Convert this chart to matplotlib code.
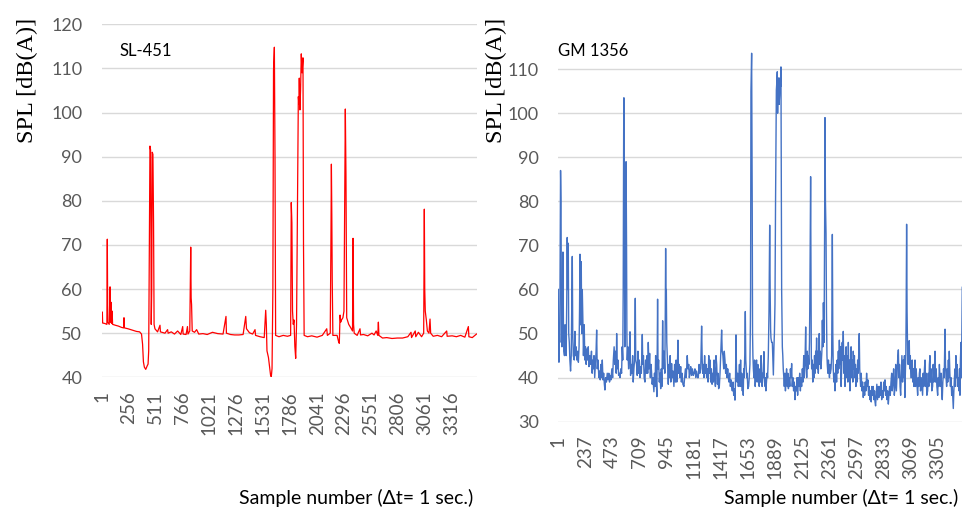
import matplotlib
matplotlib.use("Agg")
import matplotlib.pyplot as plt

# ---- data (sample index, SPL in dB(A)) ----
red_label = "SL-451"
red_n = 3552
red_sample = [
    1, 7, 10, 30, 50, 54, 58, 72, 80, 84, 90, 94, 100, 104, 130, 160, 190, 208, 212, 216,
    250, 290, 330, 360, 378, 388, 396, 405, 418, 430, 440, 446, 452, 458, 464, 468, 470, 475, 480, 486,
    492, 497, 505, 530, 553, 557, 600, 625, 630, 660, 690, 720, 750, 768, 772, 800, 813, 818, 835, 844,
    848, 852, 858, 880, 900, 920, 960, 1000, 1050, 1100, 1150, 1178, 1182, 1220, 1260, 1300, 1340, 1365, 1372, 1400,
    1430, 1453, 1458, 1500, 1540, 1554, 1560, 1566, 1580, 1590, 1600, 1607, 1614, 1622, 1628, 1636, 1642, 1648, 1680, 1720,
    1760, 1790, 1796, 1802, 1808, 1815, 1822, 1830, 1838, 1846, 1857, 1863, 1868, 1872, 1878, 1884, 1891, 1898, 1907, 1912,
    1918, 1950, 1990, 2040, 2090, 2132, 2138, 2165, 2172, 2176, 2180, 2184, 2190, 2230, 2245, 2251, 2258, 2264, 2272, 2285,
    2295, 2302, 2308, 2314, 2321, 2340, 2360, 2376, 2381, 2386, 2392, 2420, 2447, 2452, 2480, 2520, 2560, 2580, 2600, 2615,
    2621, 2626, 2660, 2700, 2750, 2800, 2850, 2900, 2930, 2935, 2970, 2975, 3000, 3030, 3050, 3056, 3060, 3065, 3075, 3085,
    3100, 3110, 3116, 3140, 3180, 3220, 3268, 3272, 3320, 3360, 3400, 3440, 3473, 3478, 3510, 3550,
]
red_spl = [
    52.5, 54.8, 52.3, 52.2, 52.0, 71.3, 52.5, 52.0, 60.5, 52.5, 57.0, 52.2, 55.0, 52.0, 51.8, 51.6, 51.3, 51.2, 53.5, 51.2,
    51.0, 50.7, 50.4, 50.3, 49.8, 47.5, 43.5, 42.3, 41.8, 42.5, 43.0, 46.0, 70.0, 92.4, 91.5, 70.0, 52.0, 60.0, 91.0, 90.5,
    75.0, 52.0, 51.0, 50.3, 51.8, 50.3, 50.0, 50.8, 50.0, 50.3, 49.8, 50.5, 49.7, 51.5, 49.8, 49.7, 51.5, 49.8, 50.5, 69.5,
    58.0, 56.5, 50.5, 50.2, 50.8, 49.8, 49.9, 49.7, 50.2, 49.9, 49.8, 53.8, 50.0, 49.7, 49.6, 49.6, 49.7, 53.8, 51.0, 50.1,
    49.8, 50.8, 49.5, 49.2, 49.0, 55.2, 52.0, 46.0, 44.5, 42.5, 40.5, 40.1, 42.0, 60.0, 109.6, 114.8, 90.0, 49.5, 49.2, 49.5,
    49.3, 49.5, 79.6, 75.0, 55.0, 52.0, 53.0, 47.0, 44.3, 52.0, 86.0, 103.6, 102.0, 107.8, 100.6, 105.0, 113.3, 109.0, 112.4, 70.0,
    49.5, 49.2, 49.4, 49.1, 49.5, 51.0, 49.5, 50.0, 72.0, 88.3, 76.8, 62.0, 49.5, 49.5, 48.0, 47.7, 54.1, 52.5, 53.0, 53.5,
    55.0, 80.0, 100.8, 86.0, 53.5, 52.0, 51.2, 50.5, 71.5, 52.0, 50.0, 49.5, 51.0, 49.6, 49.7, 49.4, 50.0, 49.6, 50.5, 49.5,
    52.5, 49.5, 48.9, 49.0, 48.8, 48.9, 48.9, 49.2, 50.2, 49.0, 50.5, 49.2, 50.2, 49.2, 50.0, 78.1, 60.0, 55.0, 53.0, 50.5,
    50.0, 53.2, 50.0, 49.3, 49.5, 49.2, 50.5, 49.3, 49.4, 49.2, 49.5, 49.1, 51.5, 49.2, 49.0, 49.8,
]

blue_label = "GM 1356"
blue_n = 3515
blue_sample = [
    1, 4, 7, 10, 14, 18, 21, 25, 29, 33, 38, 42, 46, 50, 55, 60, 65, 70, 75, 79,
    83, 88, 92, 97, 102, 108, 114, 118, 123, 127, 132, 140, 146, 150, 156, 162, 170, 176, 182, 186,
    190, 195, 201, 205, 210, 216, 220, 227, 232, 238, 244, 250, 256, 262, 268, 275, 282, 290, 296, 302,
    306, 312, 318, 324, 330, 335, 340, 347, 354, 360, 366, 372, 378, 384, 390, 396, 402, 407, 413, 420,
    427, 434, 441, 447, 453, 460, 467, 474, 480, 487, 494, 500, 505, 509, 514, 520, 526, 532, 538, 545,
    552, 557, 562, 566, 570, 572, 576, 580, 584, 588, 591, 595, 598, 601, 606, 613, 619, 625, 630, 636,
    642, 648, 653, 659, 665, 671, 675, 682, 688, 694, 700, 706, 712, 718, 724, 732, 736, 742, 748, 755,
    761, 767, 773, 779, 784, 790, 796, 802, 808, 813, 818, 824, 833, 838, 843, 848, 852, 859, 865, 869,
    874, 880, 886, 892, 897, 903, 909, 914, 920, 923, 928, 932, 935, 938, 941, 945, 949, 954, 958, 963,
    968, 974, 980, 987, 993, 999, 1007, 1013, 1020, 1026, 1032, 1037, 1042, 1047, 1053, 1060, 1066, 1072, 1078, 1085,
    1094, 1100, 1107, 1114, 1123, 1129, 1136, 1141, 1147, 1153, 1160, 1168, 1175, 1182, 1190, 1197, 1204, 1212, 1219, 1226,
    1233, 1240, 1248, 1253, 1257, 1262, 1268, 1274, 1280, 1286, 1292, 1298, 1304, 1310, 1316, 1321, 1327, 1333, 1339, 1345,
    1350, 1356, 1362, 1368, 1373, 1379, 1385, 1390, 1396, 1402, 1408, 1414, 1418, 1422, 1427, 1433, 1440, 1445, 1451, 1457,
    1463, 1469, 1475, 1480, 1486, 1492, 1498, 1504, 1509, 1515, 1521, 1527, 1532, 1538, 1543, 1547, 1551, 1557, 1562, 1567,
    1572, 1577, 1582, 1587, 1592, 1597, 1602, 1606, 1610, 1614, 1618, 1623, 1628, 1632, 1636, 1640, 1644, 1650, 1657, 1662,
    1668, 1672, 1674, 1677, 1683, 1688, 1691, 1694, 1698, 1703, 1709, 1714, 1720, 1726, 1731, 1737, 1743, 1749, 1755, 1760,
    1765, 1769, 1774, 1780, 1785, 1790, 1795, 1800, 1804, 1807, 1812, 1817, 1822, 1828, 1834, 1840, 1844, 1848, 1851, 1857,
    1863, 1868, 1872, 1877, 1881, 1886, 1891, 1898, 1902, 1906, 1909, 1913, 1918, 1922, 1926, 1930, 1934, 1938, 1941, 1944,
    1946, 1950, 1954, 1958, 1963, 1967, 1972, 1977, 1982, 1987, 1993, 1998, 2003, 2009, 2015, 2020, 2026, 2031, 2036, 2042,
    2048, 2054, 2060, 2066, 2072, 2078, 2083, 2089, 2095, 2101, 2107, 2112, 2118, 2124, 2130, 2136, 2141, 2147, 2153, 2157,
    2162, 2167, 2172, 2176, 2181, 2186, 2190, 2194, 2196, 2199, 2202, 2205, 2210, 2215, 2220, 2225, 2230, 2235, 2240, 2244,
    2248, 2253, 2258, 2263, 2267, 2271, 2275, 2280, 2285, 2290, 2294, 2298, 2303, 2307, 2313, 2318, 2321, 2325, 2330, 2334,
    2338, 2341, 2346, 2351, 2356, 2360, 2364, 2368, 2374, 2379, 2385, 2389, 2393, 2398, 2403, 2408, 2412, 2417, 2422, 2427,
    2432, 2437, 2441, 2446, 2451, 2456, 2461, 2466, 2471, 2476, 2480, 2485, 2490, 2495, 2500, 2505, 2510, 2515, 2520, 2524,
    2529, 2534, 2538, 2543, 2548, 2553, 2558, 2563, 2567, 2572, 2577, 2581, 2586, 2590, 2595, 2600, 2605, 2610, 2615, 2619,
    2623, 2627, 2631, 2636, 2642, 2648, 2654, 2660, 2666, 2671, 2677, 2683, 2688, 2694, 2700, 2706, 2712, 2717, 2723, 2729,
    2735, 2741, 2746, 2752, 2756, 2761, 2766, 2772, 2778, 2785, 2790, 2796, 2802, 2808, 2814, 2820, 2826, 2832, 2837, 2843,
    2848, 2854, 2860, 2866, 2872, 2877, 2883, 2889, 2895, 2901, 2906, 2912, 2918, 2924, 2930, 2936, 2942, 2948, 2953, 2959,
    2964, 2969, 2974, 2979, 2984, 2990, 2996, 3002, 3008, 3012, 3016, 3020, 3024, 3027, 3031, 3035, 3040, 3044, 3049, 3054,
    3058, 3063, 3068, 3075, 3080, 3085, 3090, 3095, 3100, 3104, 3109, 3114, 3120, 3127, 3132, 3137, 3142, 3147, 3152, 3158,
    3164, 3170, 3175, 3180, 3186, 3191, 3196, 3201, 3207, 3214, 3219, 3224, 3229, 3234, 3239, 3244, 3250, 3257, 3262, 3268,
    3273, 3278, 3283, 3288, 3294, 3301, 3306, 3311, 3316, 3321, 3326, 3331, 3336, 3341, 3346, 3352, 3358, 3362, 3365, 3369,
    3374, 3379, 3384, 3389, 3394, 3398, 3402, 3407, 3412, 3417, 3423, 3428, 3433, 3437, 3442, 3447, 3452, 3456, 3460, 3465,
    3470, 3476, 3481, 3486, 3491, 3495, 3499, 3504, 3508, 3511, 3515,
]
blue_spl = [
    60, 46, 43.5, 50, 48, 70, 87, 80, 50, 47, 55, 68.5, 52, 46, 45, 52, 48, 45, 58, 71.8,
    60, 70.5, 50, 48, 44, 41.5, 45, 55, 67.5, 50, 45, 44, 50.5, 45, 47, 44, 46, 43.5, 47, 55,
    68, 52, 66.3, 50, 60, 52, 45, 52, 44, 47, 43, 46.5, 44, 47, 42.5, 45, 43, 46, 41, 44,
    42, 45, 40, 43, 46, 50.8, 42, 44, 40, 41.5, 39.5, 43, 40, 44, 39.5, 41, 38.5, 37.2, 40, 39,
    41, 39.5, 41, 39, 40.5, 39.5, 42, 40, 44, 47, 43, 46, 41, 50, 42, 44, 40.5, 41, 40, 42,
    41, 47, 44, 60, 96, 103.5, 80, 47, 60, 88, 89, 70, 50, 44, 47, 42, 45, 50.4, 40.5, 43,
    41, 45, 39, 42, 44, 58, 44, 43, 40.5, 46, 41, 44, 40, 42.5, 41, 49.8, 43, 45, 40, 39,
    44, 41, 45, 41, 48, 42, 45.5, 40, 43, 41, 38.5, 40, 36.8, 41, 38, 45, 40, 35.7, 57.8, 42,
    44, 39, 41, 37.5, 42, 38, 52.9, 42, 46, 45, 41, 55, 69.3, 58, 60, 48, 45, 41, 38.5, 43,
    40, 45, 39, 43.2, 40, 41.5, 38, 43, 39, 44, 39, 42, 48.5, 41, 43, 40, 42.5, 39, 41, 38.5,
    38, 40, 42, 40, 45, 42, 43, 40, 41, 42.5, 40.5, 42, 40.5, 41, 42, 40, 41.5, 40, 40, 43,
    41, 42, 51.7, 44, 41, 43, 40, 45, 41, 43, 40, 42, 39, 45, 41, 44, 39, 42, 38.5, 41,
    39, 44, 40, 38, 45, 43, 38.5, 41, 37.5, 38, 41, 45, 48, 50.8, 46, 45, 42, 46, 44, 41,
    43, 40, 42, 40, 39, 41, 38, 39.5, 38, 37, 39, 36, 37.5, 34.9, 40, 49.7, 42, 39, 41, 38,
    40, 43, 38, 44, 38, 41, 37, 40, 36, 42, 40, 45, 55, 44, 42, 40, 41, 37.5, 38, 40,
    43, 52, 60, 105, 113.6, 80, 50, 45, 42, 40, 44, 38, 42, 44, 39, 43, 40, 38, 42, 39,
    45, 43, 38, 41, 40, 45.9, 39, 38, 40, 37, 39, 41, 40, 45, 55, 74.6, 60, 51, 49, 48,
    48, 44, 40.6, 47, 50, 56.7, 80, 105.2, 107, 109.4, 100, 106, 108, 102, 104, 108, 106, 110.5, 85, 60,
    55.3, 47, 45, 42, 40, 38, 41, 37, 40, 42, 38, 41, 37.5, 40, 38, 42, 40, 43.2, 38, 40,
    37, 39, 35, 38, 37, 40, 36, 40, 38, 41, 37, 40, 38, 42, 39, 45, 40, 43, 51.5, 44,
    40, 46, 42, 45, 43, 48, 60, 80, 85.6, 65, 45, 42, 44, 39, 43, 40, 45, 41, 46, 44,
    49, 42, 46, 41, 45, 50, 43, 46, 42, 44, 46, 53, 47, 57, 48, 75, 99, 80, 72.7, 55,
    45, 43, 41, 44, 42, 40, 43, 41, 42, 45, 72.5, 50, 42, 39, 41, 37, 40, 43, 39, 44,
    41, 46, 42, 48.5, 43, 47, 38, 42, 48, 44, 50.5, 41, 45, 38, 43, 47, 40, 45, 39, 48,
    41, 44, 37, 41, 47, 40, 44, 39, 46, 42, 45, 40, 43, 38, 42, 39, 44, 41, 46, 50,
    42, 40, 38, 41, 37, 39, 35.5, 38, 36, 39, 37, 41, 38, 39.5, 36, 38, 35, 37, 34.5, 38,
    36, 38, 35, 37, 34.5, 33.6, 36, 38.5, 35, 38, 35.5, 38, 36, 39, 35, 37, 35.5, 39, 37, 39.5,
    36, 38, 35, 37, 34, 36, 38, 36, 39, 41, 37, 39, 42, 36, 38, 43, 37, 41, 44, 46.3,
    40, 43, 38, 36, 40, 45, 39, 44, 40, 45, 35.5, 41, 45, 55, 74.8, 55, 45, 43, 47, 48.4,
    42, 45, 40, 40, 44, 39, 42, 38, 41, 44, 38, 42, 39, 36, 40, 38, 41, 42, 37, 40,
    38, 36, 41, 38, 42, 44, 38, 41, 36, 37, 41, 38, 43, 45, 39, 42, 37, 38, 43, 39,
    42, 46, 39, 42, 38, 36, 40, 38, 43, 40, 38, 41, 37, 35, 39, 42, 40, 46, 51, 43,
    40, 38, 42, 39, 44, 40, 46, 41, 38, 40, 36, 38, 35, 33, 37, 40, 42, 38, 45, 40,
    43, 38, 40, 37, 42, 36, 44, 48, 40, 50, 60.5,
]

red_ticks = list(range(1, 3317, 255))
blue_ticks = list(range(1, 3306, 236))
red_yticks = [40, 50, 60, 70, 80, 90, 100, 110, 120]
blue_yticks = [30, 40, 50, 60, 70, 80, 90, 100, 110]

TICK_FONT = "Lato"
TICK_COLOR = "#595959"
GRID_COLOR = "#D9D9D9"

fig = plt.figure(figsize=(9.64, 5.07), dpi=100)


def style_axes(ax, xticks, yticks, n, ylim):
    ax.set_xlim(1, n)
    ax.set_ylim(*ylim)
    ax.set_xticks(xticks)
    ax.set_xticklabels([str(t) for t in xticks], rotation=90,
                       fontsize=13.5, color=TICK_COLOR, family=TICK_FONT)
    ax.set_yticks(yticks)
    ax.set_yticklabels([str(t) for t in yticks],
                       fontsize=13, color=TICK_COLOR, family=TICK_FONT)
    ax.tick_params(axis="both", length=0)
    ax.tick_params(axis="y", pad=14)
    ax.tick_params(axis="x", pad=10)
    ax.grid(axis="y", color=GRID_COLOR, linewidth=1.0)
    ax.set_axisbelow(True)
    for sp in ax.spines.values():
        sp.set_visible(False)


# left panel
ax1 = fig.add_axes([0.1055, 0.2558, 0.389, 0.6963])
ax1.plot(red_sample, red_spl, color="#FF0000", linewidth=0.9)
style_axes(ax1, red_ticks, red_yticks, red_n, (40, 120))
ax1.text(120 / 964, 1 - 51 / 507, red_label, transform=fig.transFigure,
         fontsize=12, family=TICK_FONT, va="center", ha="left")

# right panel
ax2 = fig.add_axes([0.5791, 0.1682, 0.4191, 0.7824])
ax2.plot(blue_sample, blue_spl, color="#4472C4", linewidth=1.0)
style_axes(ax2, blue_ticks, blue_yticks, blue_n, (30, 120))
ax2.text(557.7 / 964, 1 - 51 / 507, blue_label, transform=fig.transFigure,
         fontsize=12, family=TICK_FONT, va="center", ha="left")

# axis titles
for xc in (27.5, 496):
    fig.text(xc / 964, 1 - 80 / 507, "SPL [dB(A)]", rotation=90,
             fontsize=17.5, family="Liberation Serif", ha="center", va="center")
for xr in (473, 958):
    fig.text(xr / 964, 1 - 498 / 507, "Sample number (\u0394t= 1 sec.)",
             fontsize=14, family=TICK_FONT, ha="right", va="center")

fig.savefig("out.png", dpi=100)
